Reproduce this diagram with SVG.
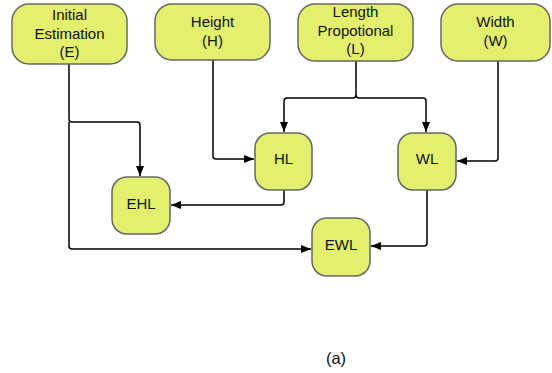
<svg xmlns="http://www.w3.org/2000/svg" width="552" height="373" viewBox="0 0 552 373">
<defs>
<marker id="ah" markerWidth="10" markerHeight="8" refX="10" refY="4" orient="auto" markerUnits="userSpaceOnUse">
<path d="M0,0 L10,4 L0,8 Z" fill="#000"/>
</marker>
<style>
.n{fill:#e3f06e;stroke:#666;stroke-width:1.5}
.t{font-family:"Liberation Sans",Arial,sans-serif;font-size:15px;fill:#111;text-anchor:middle}
.c{fill:none;stroke:#000;stroke-width:1.5;stroke-linejoin:round;marker-end:url(#ah)}
</style>
</defs>
<rect width="552" height="373" fill="#fff"/>
<g id="connectors">
<path class="c" d="M69,64 V119 Q69,122 72,122 H137 Q140,122 140,125 V176"/>
<path class="c" d="M69,122 V246 Q69,249 72,249 H311"/>
<path class="c" d="M213,60 V156 Q213,159 216,159 H254"/>
<path class="c" d="M356,61 V95 Q356,98 353,98 H287 Q284,98 284,101 V132"/>
<path class="c" d="M356,95 Q356,98 359,98 H423 Q426,98 426,101 V132"/>
<path class="c" d="M498,61 V158 Q498,161 495,161 H457"/>
<path class="c" d="M284,190 V202 Q284,205 281,205 H171"/>
<path class="c" d="M427,190 V243 Q427,246 424,246 H371"/>
</g>
<g id="E"><rect class="n" x="12" y="4" width="115" height="60" rx="17"/>
<text class="t" x="69.5" y="20">Initial</text><text class="t" x="69.5" y="39">Estimation</text><text class="t" x="69.5" y="57">(E)</text></g>
<g id="H"><rect class="n" x="155" y="4" width="115" height="56" rx="17"/>
<text class="t" x="212.5" y="27">Height</text><text class="t" x="212.5" y="46">(H)</text></g>
<g id="L"><rect class="n" x="298" y="4" width="115" height="57" rx="17"/>
<text class="t" x="355.5" y="17">Length</text><text class="t" x="355.5" y="36">Propotional</text><text class="t" x="355.5" y="54">(L)</text></g>
<g id="W"><rect class="n" x="441" y="4" width="109" height="57" rx="17"/>
<text class="t" x="495.5" y="27">Width</text><text class="t" x="495.5" y="46">(W)</text></g>
<g id="HL"><rect class="n" x="255" y="133" width="57" height="57" rx="15"/>
<text class="t" x="283.5" y="164">HL</text></g>
<g id="WL"><rect class="n" x="398" y="133" width="58" height="57" rx="15"/>
<text class="t" x="427" y="164">WL</text></g>
<g id="EHL"><rect class="n" x="112" y="177" width="58" height="57" rx="15"/>
<text class="t" x="141" y="209">EHL</text></g>
<g id="EWL"><rect class="n" x="312" y="218" width="58" height="58" rx="15"/>
<text class="t" x="341" y="250">EWL</text></g>
<text class="t" x="336" y="364" style="font-size:16.5px">(a)</text>
</svg>
